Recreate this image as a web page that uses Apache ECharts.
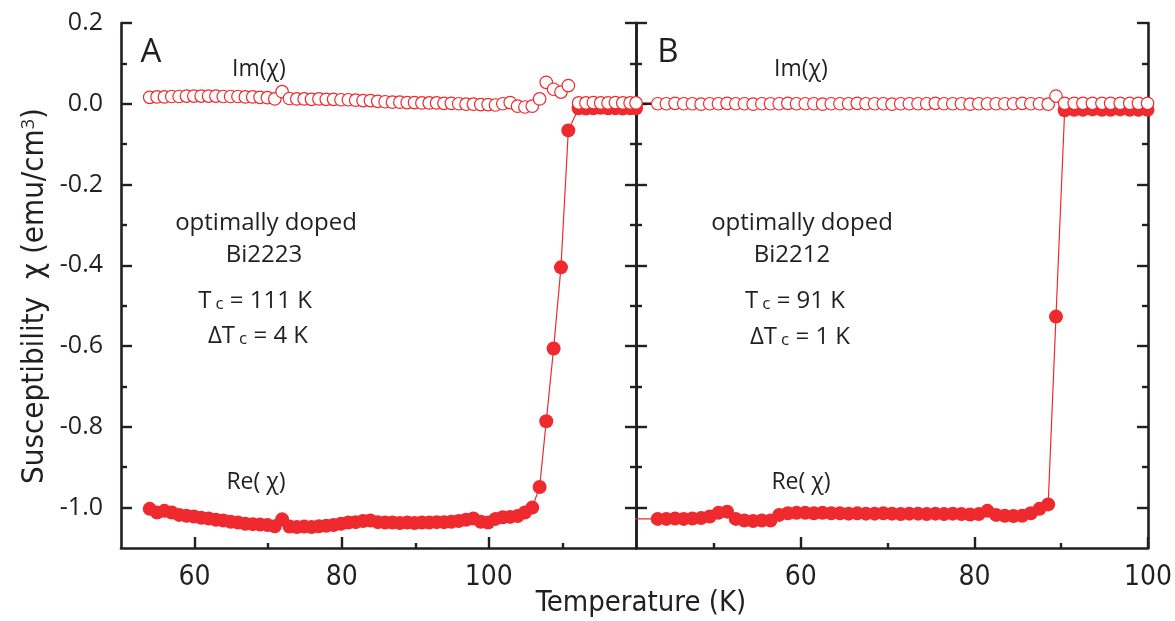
<!DOCTYPE html>
<html>
<head>
<meta charset="utf-8">
<script src="https://cdn.jsdelivr.net/npm/echarts@6/dist/echarts.min.js"></script>
<style>
  html, body { margin: 0; padding: 0; background: #ffffff; }
  #chart { width: 1175px; height: 621px; }
</style>
</head>
<body>
<div id="chart"></div>
<script>
// Panel A: optimally doped Bi2223 — temperature (K), Re(chi) and Im(chi) in emu/cm^3
const tempA = [53.9, 54.9, 55.9, 56.9, 57.9, 58.9, 59.9, 60.9, 61.9, 62.9,
  63.9, 64.9, 65.9, 66.9, 67.9, 68.9, 69.9, 70.9, 71.9, 72.9,
  73.9, 74.9, 75.9, 76.9, 77.9, 78.9, 79.9, 80.9, 81.9, 82.9,
  83.9, 84.9, 85.9, 86.9, 87.9, 88.9, 89.9, 90.9, 91.9, 92.9,
  93.9, 94.9, 95.9, 96.9, 97.9, 98.9, 99.9, 100.9, 101.9, 102.9,
  103.9, 104.9, 105.9, 106.9, 107.8, 108.8, 109.8, 110.8,
  112.2, 113.2, 114.2, 115.2, 116.2, 117.2, 118.2, 119.2, 120];
const reA = [-1.003, -1.012, -1.008, -1.012, -1.018, -1.020, -1.022, -1.025, -1.027, -1.030,
  -1.032, -1.035, -1.037, -1.040, -1.041, -1.042, -1.043, -1.046, -1.029, -1.047,
  -1.048, -1.047, -1.048, -1.046, -1.045, -1.043, -1.040, -1.037, -1.036, -1.033,
  -1.032, -1.036, -1.037, -1.037, -1.038, -1.037, -1.038, -1.037, -1.037, -1.036,
  -1.036, -1.035, -1.033, -1.030, -1.027, -1.035, -1.037, -1.028, -1.024, -1.023,
  -1.021, -1.012, -1.000, -0.949, -0.786, -0.606, -0.405, -0.066,
  -0.011, -0.012, -0.011, -0.010, -0.011, -0.011, -0.012, -0.011, -0.011];
const imA = [0.016, 0.017, 0.017, 0.018, 0.018, 0.019, 0.019, 0.019, 0.019, 0.019,
  0.018, 0.018, 0.018, 0.017, 0.017, 0.016, 0.015, 0.012, 0.030, 0.013,
  0.012, 0.012, 0.011, 0.012, 0.011, 0.011, 0.010, 0.010, 0.009, 0.008,
  0.008, 0.006, 0.005, 0.004, 0.004, 0.003, 0.003, 0.002, 0.002, 0.002,
  0.001, 0.001, 0.000, -0.001, -0.001, -0.002, -0.002, -0.003, 0.000, 0.003,
  -0.006, -0.008, -0.006, 0.012, 0.053, 0.036, 0.029, 0.045,
  0.002, 0.002, 0.003, 0.002, 0.002, 0.003, 0.002, 0.002, 0.002];

// Panel B: optimally doped Bi2212
const tempB = [40, 43.5, 44.5, 45.5, 46.5, 47.5, 48.5, 49.5, 50.5, 51.5,
  52.5, 53.5, 54.5, 55.5, 56.5, 57.5, 58.5, 59.5, 60.5, 61.5,
  62.5, 63.5, 64.5, 65.5, 66.5, 67.5, 68.5, 69.5, 70.5, 71.5,
  72.5, 73.5, 74.5, 75.5, 76.5, 77.5, 78.5, 79.5, 80.5, 81.5,
  82.5, 83.5, 84.5, 85.5, 86.5, 87.5, 88.5, 89.4, 90.4, 91.5,
  92.5, 93.6, 94.7, 95.7, 96.8, 97.9, 98.9, 99.95];
const reB = [-1.028, -1.028, -1.028, -1.027, -1.028, -1.027, -1.026, -1.022, -1.013, -1.010,
  -1.028, -1.032, -1.033, -1.032, -1.032, -1.018, -1.014, -1.013, -1.013, -1.014,
  -1.013, -1.014, -1.014, -1.015, -1.014, -1.015, -1.015, -1.014, -1.015, -1.016,
  -1.015, -1.015, -1.016, -1.015, -1.016, -1.015, -1.016, -1.017, -1.016, -1.008,
  -1.018, -1.020, -1.021, -1.020, -1.014, -1.003, -0.992, -0.527, -0.016, -0.015,
  -0.015, -0.014, -0.015, -0.015, -0.014, -0.015, -0.015, -0.015];
const imB = [0.000, 0.000, 0.000, 0.001, 0.000, 0.000, -0.001, 0.000, 0.000, 0.001,
  0.000, 0.000, -0.001, 0.000, 0.000, 0.000, 0.001, 0.000, 0.000, 0.000,
  -0.001, 0.000, 0.000, 0.000, 0.001, 0.000, 0.000, 0.000, -0.001, 0.000,
  0.000, 0.000, 0.000, 0.001, 0.000, 0.000, 0.000, -0.001, 0.000, 0.000,
  0.000, 0.000, 0.000, 0.001, 0.000, 0.000, -0.001, 0.019, 0.001, 0.001,
  0.001, 0.001, 0.001, 0.001, 0.001, 0.001, 0.001, 0.001];

// Tick positions
const yMajorTicks = [-1.0, -0.8, -0.6, -0.4, -0.2, 0.0, 0.2];
const yMinorTicks = [-0.9, -0.7, -0.5, -0.3, -0.1, 0.1];
const xMajorTicksA = [60, 80, 100];
const xMinorTicksA = [70, 90, 110];
const xMajorTicksB = [60, 80, 100];
const xMinorTicksB = [50, 70, 90];

const INK = '#231f20';
const RED = '#ee2a2e';
const SANS = "'Open Sans', 'Noto Sans', sans-serif";
const NARROW = "'Liberation Sans Narrow', 'DejaVu Sans Condensed', 'Roboto Condensed', 'Open Sans', sans-serif";

const pairs = (t, v) => t.map((x, i) => [x, v[i]]);

const gridTop = 23, gridHeight = 525;

function xAxes(grid, min, max, major, minor) {
  return [
    {
      type: 'value', gridIndex: grid, min: min, max: max, position: 'bottom',
      axisLine: { show: true, onZero: false, lineStyle: { color: INK, width: 2.6 } },
      axisTick: { show: true, inside: true, length: 11, customValues: major,
                  lineStyle: { color: INK, width: 2.4 } },
      axisLabel: { show: true, customValues: major, margin: 16, color: INK,
                   fontSize: 28, fontFamily: NARROW },
      splitLine: { show: false }
    },
    {
      type: 'value', gridIndex: grid, min: min, max: max, position: 'bottom',
      axisLine: { show: false, onZero: false },
      axisTick: { show: true, inside: true, length: 5, customValues: minor,
                  lineStyle: { color: INK, width: 2.4 } },
      axisLabel: { show: false },
      splitLine: { show: false }
    }
  ];
}

function yAxes(grid, position, labels) {
  return [
    {
      type: 'value', gridIndex: grid, min: -1.1, max: 0.2, position: position,
      axisLine: { show: true, onZero: false, lineStyle: { color: INK, width: 2.6 } },
      axisTick: { show: true, inside: true, length: 11, customValues: yMajorTicks,
                  lineStyle: { color: INK, width: 2.4 } },
      axisLabel: { show: labels, customValues: yMajorTicks, margin: 18, color: INK,
                   fontSize: 25, fontFamily: SANS,
                   formatter: v => v.toFixed(1) },
      splitLine: { show: false }
    },
    {
      type: 'value', gridIndex: grid, min: -1.1, max: 0.2, position: position,
      axisLine: { show: false, onZero: false },
      axisTick: { show: true, inside: true, length: 6, customValues: yMinorTicks,
                  lineStyle: { color: INK, width: 2.4 } },
      axisLabel: { show: false },
      splitLine: { show: false }
    }
  ];
}

function reSeries(xi, yi, t, v, clip) {
  return {
    type: 'line', xAxisIndex: xi, yAxisIndex: yi, data: pairs(t, v), clip: clip,
    symbol: 'circle', symbolSize: 14, showSymbol: true,
    itemStyle: { color: RED },
    lineStyle: { color: RED, width: 1.2 },
    emphasis: { disabled: true }, z: 3
  };
}

function imSeries(xi, yi, t, v, clip, lineColor) {
  return {
    type: 'line', xAxisIndex: xi, yAxisIndex: yi, data: pairs(t, v), clip: clip,
    symbol: 'circle', symbolSize: 12.5, showSymbol: true,
    itemStyle: { color: '#ffffff', borderColor: RED, borderWidth: 1.2 },
    lineStyle: lineColor ? { color: lineColor, width: 2.4 } : { opacity: 0 },
    emphasis: { disabled: true }, z: 4
  };
}

function label(text, x, y, size, extra) {
  return {
    type: 'text', x: x, y: y, silent: true, z: 10,
    style: Object.assign({
      text: text, fill: INK, fontSize: size, fontFamily: SANS,
      align: 'center', verticalAlign: 'middle',
      rich: {
        sub: { fontSize: 17, fontFamily: SANS, fill: INK, lineHeight: 12,
               verticalAlign: 'bottom', padding: [0, 0, 0, 4] },
        sup: { fontSize: 18, fontFamily: SANS, fill: INK, lineHeight: 8,
               verticalAlign: 'top' }
      }
    }, extra || {})
  };
}

const chart = echarts.init(document.getElementById('chart'), null, { renderer: 'canvas' });

chart.setOption({
  animation: false,
  backgroundColor: '#ffffff',
  tooltip: { show: false },
  grid: [
    { left: 121, top: gridTop, width: 515, height: gridHeight },
    { left: 636, top: gridTop, width: 515, height: gridHeight }
  ],
  xAxis: [].concat(
    xAxes(0, 50, 120, xMajorTicksA, xMinorTicksA),
    xAxes(1, 41, 100, xMajorTicksB, xMinorTicksB)
  ),
  yAxis: [].concat(
    yAxes(0, 'left', true),
    yAxes(0, 'right', false),
    yAxes(1, 'left', false),
    yAxes(1, 'right', false)
  ),
  series: [
    reSeries(0, 0, tempA, reA, false),
    imSeries(0, 0, tempA, imA, false, null),
    reSeries(2, 4, tempB, reB, true),
    imSeries(2, 4, tempB, imB, true, '#3b1414')
  ],
  graphic: [
    // axis titles
    label('Susceptibility  χ (emu/cm{sup|3})', 35, 296, 31,
          { fontFamily: NARROW }),
    label('Temperature (K)', 641, 603, 29, { fontFamily: NARROW }),
    // panel A annotations
    label('A', 151, 53, 33),
    label('Im(χ)', 259, 69, 23),
    label('optimally doped', 266, 223, 24),
    label('Bi2223', 264, 255, 24),
    label('T{sub|c} = 111 K', 255, 301, 24),
    label('ΔT{sub|c} = 4 K', 258, 336, 24),
    label('Re( χ)', 256, 482, 23),
    // panel B annotations
    label('B', 668, 53, 33),
    label('Im(χ)', 801, 69, 23),
    label('optimally doped', 802, 223, 24),
    label('Bi2212', 792, 255, 24),
    label('T{sub|c} = 91 K', 795, 301, 24),
    label('ΔT{sub|c} = 1 K', 800, 337, 24),
    label('Re( χ)', 801, 482, 23)
  ].map((g, i) => i === 0 ? Object.assign(g, { rotation: Math.PI / 2 }) : g)
});
</script>
</body>
</html>
